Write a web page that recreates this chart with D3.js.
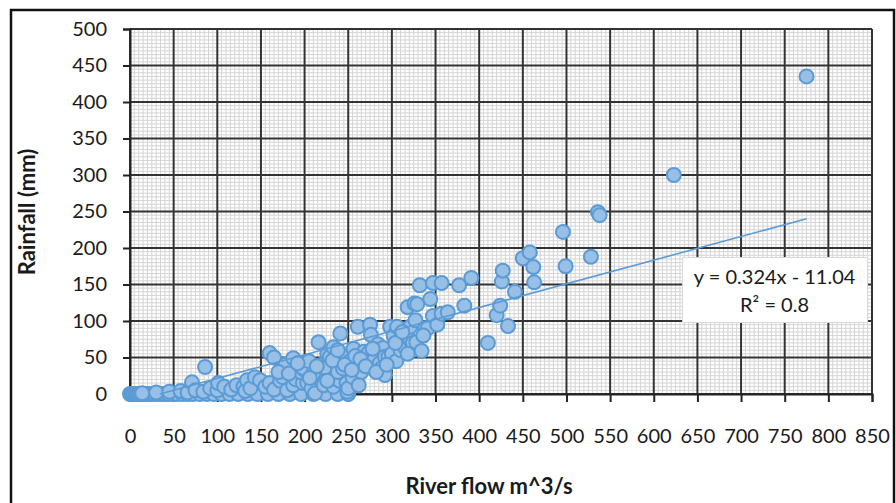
<!DOCTYPE html>
<html>
<head>
<meta charset="utf-8">
<script src="https://cdn.jsdelivr.net/npm/d3@7"></script>
<style>
  body { margin: 0; background: #fff; }
  svg text { font-family: Lato, "Liberation Sans", sans-serif; fill: #1a1a1a; }
</style>
</head>
<body>
<div class="chart"></div>
<script>
// river flow (m^3/s) vs rainfall (mm)
const flow = [
  0, 2, 4, 6, 8, 10, 12, 15, 18, 21, 25, 28, 32, 36, 40, 44, 49, 54, 60, 66, 72, 80, 88, 96,
  105, 114, 124, 135, 146, 158, 170, 183, 196, 210, 224, 238, 250,
  14, 30, 45, 58, 66, 71, 75, 84, 86, 92, 100, 101, 108, 116, 122, 130, 132, 134, 138, 143,
  149, 155, 160, 165, 172, 175, 180, 187, 190, 198, 203, 208, 212, 218, 222, 228, 233, 240,
  244, 248, 248, 249, 250, 255, 262,
  160, 165, 178, 187, 195, 200, 198, 205, 210, 216, 220, 223, 226, 229, 233, 236, 238, 241,
  244, 248, 252, 256, 260, 261, 265, 268, 273, 275, 276, 280, 284, 286, 288, 290, 292, 292,
  296, 298, 300, 302, 305, 306, 309, 310, 314, 315, 318, 321, 321, 324, 326, 327, 328, 329,
  332, 334, 338, 341, 344, 347, 347, 352, 357, 357, 364, 377, 383, 391, 410, 420, 424, 426,
  427, 433, 441, 450, 458, 462, 463, 496, 499, 528, 536, 538, 623, 775,
  170, 182, 192, 206, 214, 226, 232, 238, 246, 254, 258, 264, 270, 278, 282, 294, 304, 312,
  318, 336
];
const rainfall = [
  0, 0, 0, 0, 0, 0, 0, 0, 0, 0, 0, 0, 0, 0, 0, 0, 0, 0, 0, 0, 0, 0, 0, 0,
  0, 0, 0, 0, 0, 0, 0, 0, 0, 0, 0, 0, 0,
  1, 2, 3, 4, 2, 16, 5, 3, 37, 8, 5, 15, 10, 6, 12, 10, 4, 19, 8, 23,
  19, 10, 15, 6, 18, 23, 5, 12, 20, 15, 15, 8, 1, 20, 12, 25, 10, 18,
  29, 22, 15, 3, 8, 23, 12,
  56, 50, 40, 49, 30, 33, 36, 45, 28, 71, 40, 36, 55, 51, 64, 42, 30, 83,
  35, 53, 45, 62, 42, 92, 30, 58, 56, 95, 81, 48, 68, 42, 35, 63, 51, 26,
  51, 92, 55, 80, 45, 92, 74, 60, 67, 64, 119, 74, 92, 70, 124, 101, 71, 123,
  149, 59, 90, 90, 130, 152, 107, 95, 152, 110, 112, 149, 121, 159, 70, 108, 121, 154,
  169, 93, 140, 186, 194, 174, 153, 222, 175, 188, 249, 245, 300, 435,
  30, 28, 42, 22, 38, 18, 46, 60, 40, 33, 52, 48, 38, 62, 30, 40, 70, 85,
  55, 80
];

const xTicks = d3.range(0, 851, 50);
const yTicks = d3.range(0, 501, 50);
const trendSlope = 0.324;
const trendIntercept = -11.04;
const equationLines = ["y = 0.324x - 11.04", "R\u00b2 = 0.8"];
const xTitle = "River flow m^3/s";
const yTitle = "Rainfall (mm)";

const W = 896, H = 503;
const margin = { top: 29, right: 24, bottom: 109, left: 130 };
const width = W - margin.left - margin.right,
      height = H - margin.top - margin.bottom;

const svg = d3.select(".chart").append("svg")
    .attr("width", W)
    .attr("height", H);

// outer frame
svg.append("rect")
    .attr("x", 11).attr("y", 10)
    .attr("width", 883).attr("height", 500)
    .attr("fill", "none")
    .attr("stroke", "#111")
    .attr("stroke-width", 2.5);

const g = svg.append("g")
    .attr("transform", "translate(" + margin.left + "," + margin.top + ")");

const x = d3.scaleLinear().domain([0, 850]).range([0, width]);
const y = d3.scaleLinear().domain([0, 500]).range([height, 0]);

// minor grid every 5
g.append("g").selectAll("line")
    .data(d3.range(0, 851, 5).filter(v => v % 50 !== 0))
    .enter().append("line")
    .attr("x1", d => x(d)).attr("x2", d => x(d))
    .attr("y1", 0).attr("y2", height)
    .attr("stroke", "#d4d4d4").attr("stroke-width", 1);
g.append("g").selectAll("line")
    .data(d3.range(0, 501, 5).filter(v => v % 50 !== 0))
    .enter().append("line")
    .attr("x1", 0).attr("x2", width)
    .attr("y1", d => y(d)).attr("y2", d => y(d))
    .attr("stroke", "#d4d4d4").attr("stroke-width", 1);

// major grid
g.append("g").selectAll("line")
    .data(xTicks)
    .enter().append("line")
    .attr("x1", d => x(d)).attr("x2", d => x(d))
    .attr("y1", 0).attr("y2", height)
    .attr("stroke", "#333").attr("stroke-width", 2);
g.append("g").selectAll("line")
    .data(yTicks)
    .enter().append("line")
    .attr("x1", 0).attr("x2", width)
    .attr("y1", d => y(d)).attr("y2", d => y(d))
    .attr("stroke", "#333").attr("stroke-width", 2);

// axes
const xAxis = g.append("g")
    .attr("transform", "translate(0," + height + ")")
    .call(d3.axisBottom(x).tickValues(xTicks).tickSize(8).tickPadding(27).tickFormat(d3.format("d")));
const yAxis = g.append("g")
    .call(d3.axisLeft(y).tickValues(yTicks).tickSize(7).tickPadding(16).tickFormat(d3.format("d")));

[xAxis, yAxis].forEach(a => {
    a.select(".domain").attr("stroke", "#222").attr("stroke-width", 2);
    a.selectAll(".tick line").attr("stroke", "#222").attr("stroke-width", 2);
    a.selectAll(".tick text")
        .attr("font-size", "20px")
        .style("font-family", "Lato, 'Liberation Sans', sans-serif")
        .attr("fill", "#1a1a1a");
});

// points
g.append("g").selectAll("circle")
    .data(flow.map((f, i) => ({ f: f, r: rainfall[i] })))
    .enter().append("circle")
    .attr("cx", d => x(d.f))
    .attr("cy", d => y(d.r))
    .attr("r", 7)
    .attr("fill", "#98bfe6")
    .attr("stroke", "#5b9bd5")
    .attr("stroke-width", 2);

// trendline
const tStart = Math.max(d3.min(flow), -trendIntercept / trendSlope);
const tEnd = d3.max(flow);
g.append("line")
    .attr("x1", x(tStart)).attr("y1", y(trendSlope * tStart + trendIntercept))
    .attr("x2", x(tEnd)).attr("y2", y(trendSlope * tEnd + trendIntercept))
    .attr("stroke", "#5b9bd5")
    .attr("stroke-width", 1.6);

// equation label
const box = g.append("g").attr("transform", "translate(" + (x(633)) + "," + (y(187)) + ")");
box.append("rect")
    .attr("width", 185).attr("height", 65)
    .attr("fill", "#fff")
    .attr("stroke", "#d9d9d9");
box.selectAll("text")
    .data(equationLines)
    .enter().append("text")
    .attr("x", 92)
    .attr("y", (d, i) => 27 + i * 28)
    .attr("text-anchor", "middle")
    .attr("font-size", "20px")
    .text(d => d);

// axis titles
svg.append("text")
    .attr("x", margin.left + width / 2 - 12)
    .attr("y", 494)
    .attr("text-anchor", "middle")
    .attr("font-size", "22px")
    .attr("font-weight", "bold")
    .text(xTitle);

svg.append("text")
    .attr("transform", "translate(35," + 212 + ") rotate(-90)")
    .attr("text-anchor", "middle")
    .attr("font-size", "22px")
    .attr("font-weight", "bold")
    .text(yTitle);
</script>
</body>
</html>
